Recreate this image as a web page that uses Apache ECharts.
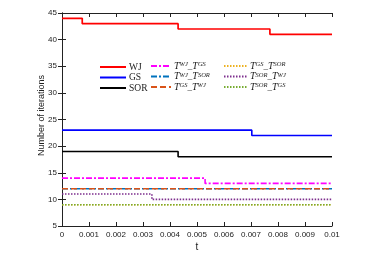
<!DOCTYPE html>
<html><head><meta charset="utf-8">
<script src="https://cdn.jsdelivr.net/npm/echarts@6/dist/echarts.min.js"></script>
<style>html,body{margin:0;padding:0;background:#fff}#c{width:366px;height:259px}</style>
</head><body><div id="c"></div>
<script>
// Data (step points: value holds from x until next x)
const xTicks = ['0','0.001','0.002','0.003','0.004','0.005','0.006','0.007','0.008','0.009','0.01'];
const WJ = [[0,44],[0.00075,43],[0.0043,42],[0.0077,41],[0.01,41]];
const GS = [[0,23],[0.00703,22],[0.01,22]];
const SOR = [[0,19],[0.0043,18],[0.01,18]];
const T_WJ_GS = [[0,14],[0.0053,13],[0.01,13]];
const T_WJ_SOR = [[0,12],[0.01,12]];
const T_GS_WJ = [[0,12],[0.01,12]];
const T_GS_SOR = [[0,9],[0.01,9]];
const T_SOR_WJ = [[0,11],[0.00333,10],[0.01,10]];
const T_SOR_GS = [[0,9],[0.01,9]];

const chart = echarts.init(document.getElementById('c'), null, {renderer:'canvas'});
const mk = (name, data, color, type, width) => ({
  name, type:'line', step:'end', data, symbol:'none', z: 2,
  lineStyle:{color, width, type}, itemStyle:{color}
});
const dashdot = [6,2,2,2];
const dotted = [1.5,1.5];
const series = [
  mk('WJ', WJ, '#ff0000', 'solid', 1.7),
  mk('GS', GS, '#0000ff', 'solid', 1.6),
  mk('SOR', SOR, '#000000', 'solid', 1.6),
  mk('twjgs', T_WJ_GS, '#ff00ff', dashdot, 1.6),
  mk('twjsor', T_WJ_SOR, '#0072BD', dashdot, 1.6),
  mk('tgswj', T_GS_WJ, '#D95319', [6,3], 1.6),
  mk('tgssor', T_GS_SOR, '#EDB120', dotted, 1.6),
  mk('tsorwj', T_SOR_WJ, '#7E2F8E', dotted, 1.6),
  mk('tsorgs', T_SOR_GS, '#77AC30', dotted, 1.6)
];
const mathLabels = {
  twjgs:['WJ','GS'], twjsor:['WJ','SOR'], tgswj:['GS','WJ'],
  tgssor:['GS','SOR'], tsorwj:['SOR','WJ'], tsorgs:['SOR','GS']
};
const rich = {
  t:{fontFamily:'Liberation Serif', fontStyle:'italic', fontSize:10, color:'#222', verticalAlign:'bottom', lineHeight:10},
  s:{fontFamily:'Liberation Serif', fontStyle:'italic', fontSize:6.5, color:'#222', verticalAlign:'top', lineHeight:10},
  m:{fontFamily:'Liberation Serif', fontSize:9, color:'#222', verticalAlign:'bottom', lineHeight:10},
  n:{fontFamily:'Liberation Serif', fontSize:9.5, color:'#222', lineHeight:10}
};
const fmt = n => {
  const p = mathLabels[n];
  if (!p) return '{n|' + n + '}';
  return '{t|T}{s|' + p[0] + '}{m|_}{t|T}{s|' + p[1] + '}';
};
const legendBase = {
  orient:'vertical', itemHeight:8, itemGap:0.5, padding:0,
  formatter: fmt, textStyle:{rich, padding:[0,0,0,-2]}, backgroundColor:'transparent',
  selectedMode:false, itemStyle:{opacity:0}
};
const axisLine = {show:true, lineStyle:{color:'#222', width:1}};
const option = {
  animation:false,
  backgroundColor:'#fff',
  grid:{left:62, right:34, top:13, bottom:33, containLabel:false},
  legend:[
    Object.assign({}, legendBase, {data:['WJ','GS','SOR'], left:99, top:62, itemWidth:26}),
    Object.assign({}, legendBase, {data:['twjgs','twjsor','tgswj'], left:150, top:61, itemWidth:20}),
    Object.assign({}, legendBase, {data:['tgssor','tsorwj','tsorgs'], left:223, top:61, itemWidth:23})
  ],
  xAxis:[{
    type:'value', min:0, max:0.01, interval:0.001, position:'bottom',
    name:'t', nameLocation:'middle', nameGap:16, nameMoveOverlap:false,
    nameTextStyle:{fontFamily:'Liberation Sans', fontSize:10, color:'#222'},
    axisLine, axisTick:{show:true, inside:true, length:4, lineStyle:{color:'#222'}},
    splitLine:{show:false},
    axisLabel:{fontFamily:'Liberation Sans', fontSize:8, color:'#222', margin:5,
      formatter:(v,i)=>xTicks[Math.round(v*1000)]}
  },{
    type:'value', min:0, max:0.01, interval:0.001, position:'top',
    axisLine, axisTick:{show:true, inside:true, length:4, lineStyle:{color:'#222'}},
    axisLabel:{show:false}, splitLine:{show:false}
  }],
  yAxis:[{
    type:'value', min:5, max:45, interval:5, position:'left',
    name:'Number of iterations', nameLocation:'middle', nameGap:16, nameMoveOverlap:false,
    nameTextStyle:{fontFamily:'Liberation Sans', fontSize:9, color:'#222', padding:[0,0,0,8]},
    axisLine, axisTick:{show:true, inside:true, length:4, lineStyle:{color:'#222'}},
    splitLine:{show:false},
    axisLabel:{fontFamily:'Liberation Sans', fontSize:8, color:'#222', margin:5}
  },{
    type:'value', min:5, max:45, interval:5, position:'right',
    axisLine, axisTick:{show:true, inside:true, length:4, lineStyle:{color:'#222'}},
    axisLabel:{show:false}, splitLine:{show:false}
  }],
  series
};
chart.setOption(option);
</script></body></html>
